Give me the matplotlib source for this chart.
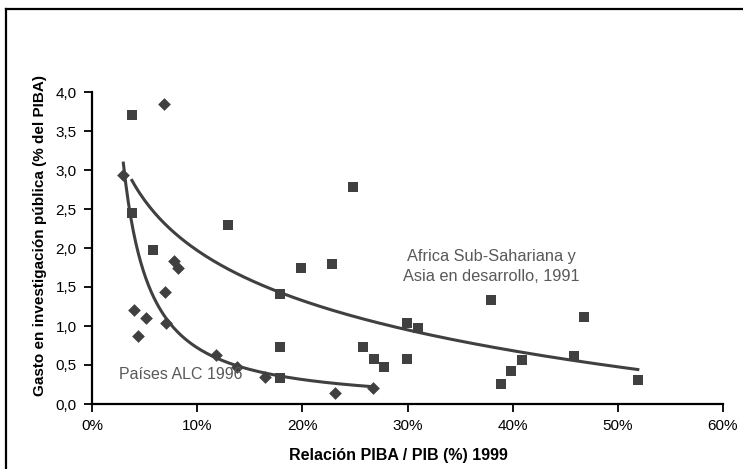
import numpy as np
import matplotlib
matplotlib.use("Agg")
import matplotlib.pyplot as plt
from matplotlib.lines import Line2D

plt.rcParams['font.family'] = ['Liberation Sans', 'DejaVu Sans']

# Latin America & Caribbean countries, 1996 (diamonds)
alc_ratio = [2.98, 6.8, 7.8, 8.17, 6.94, 3.99, 5.1, 7.03, 4.4, 11.79, 13.75, 16.47, 23.1, 26.7]
alc_spend = [2.94, 3.85, 1.83, 1.75, 1.43, 1.20, 1.10, 1.04, 0.87, 0.63, 0.47, 0.35, 0.14, 0.20]

# Sub-Saharan Africa and developing Asia, 1991 (squares)
ssa_ratio = [3.8, 3.83, 5.83, 12.93, 24.84, 19.87, 22.85, 17.87, 17.87, 17.87, 25.8, 26.8,
             27.8, 29.97, 30.96, 29.97, 37.9, 46.8, 45.8, 40.85, 39.86, 38.85, 51.9]
ssa_spend = [3.71, 2.45, 1.98, 2.29, 2.78, 1.75, 1.79, 1.41, 0.73, 0.33, 0.73, 0.58,
             0.48, 1.04, 0.97, 0.58, 1.33, 1.11, 0.61, 0.56, 0.42, 0.26, 0.31]

x_ticks = [0, 10, 20, 30, 40, 50, 60]
y_ticks = [0.0, 0.5, 1.0, 1.5, 2.0, 2.5, 3.0, 3.5, 4.0]

W, H = 743, 469
fig = plt.figure(figsize=(W / 100, H / 100), dpi=100)

# outer chart frame (partly cropped)
fig.add_artist(Line2D([6 / W, 6 / W], [-0.05, 1 - 9 / H], color='black', lw=1.6,
                      transform=fig.transFigure))
fig.add_artist(Line2D([6 / W, 1.05], [1 - 9 / H, 1 - 9 / H], color='black', lw=1.6,
                      transform=fig.transFigure))

left, right, top, bottom = 92, 723, 92, 404
ax = fig.add_axes([left / W, 1 - bottom / H, (right - left) / W, (bottom - top) / H])

mark_col = '#404040'
ax.scatter(alc_ratio, alc_spend, marker='D', s=42, color=mark_col, lw=0, zorder=3)
ax.scatter(ssa_ratio, ssa_spend, marker='s', s=52, color=mark_col, lw=0, zorder=3)

# power trend for the ALC group
b1, a1 = np.polyfit(np.log(alc_ratio), np.log(alc_spend), 1)
xs1 = np.linspace(min(alc_ratio), max(alc_ratio), 200)
ax.plot(xs1, np.exp(a1) * xs1 ** b1, color='#404040', lw=2.2, zorder=2)

# logarithmic trend for Africa / Asia
b2, a2 = np.polyfit(np.log(ssa_ratio), ssa_spend, 1)
xs2 = np.linspace(min(ssa_ratio), max(ssa_ratio), 200)
ax.plot(xs2, a2 + b2 * np.log(xs2), color='#404040', lw=2.2, zorder=2)

ax.set_xlim(0, 60)
ax.set_ylim(0, 4)
ax.set_xticks(x_ticks)
ax.set_xticklabels([f"{t}%" for t in x_ticks])
ax.set_yticks(y_ticks)
ax.set_yticklabels([f"{t:.1f}".replace('.', ',') for t in y_ticks])
for s in ('top', 'right'):
    ax.spines[s].set_visible(False)
for s in ('left', 'bottom'):
    ax.spines[s].set_linewidth(1.6)
ax.tick_params(axis='both', direction='out', length=6, width=1.3, labelsize=11, pad=5)

ax.text(38.0, 1.76, "Africa Sub-Sahariana y\nAsia en desarrollo, 1991", ha='center', va='center',
        fontsize=11.8, color='#595959', linespacing=1.4)
ax.text(2.6, 0.38, "Países ALC 1996", ha='left', va='center', fontsize=11.5, color='#595959')

fig.text(398 / W, 1 - 455 / H, "Relación PIBA / PIB (%) 1999", ha='center', va='center',
         fontsize=11.5, fontweight='bold')
fig.text(40 / W, 1 - 236 / H, "Gasto en investigación pública (% del PIBA)", ha='center',
         va='center', rotation=90, fontsize=11, fontweight='bold')

fig.savefig('out.png', dpi=100)
